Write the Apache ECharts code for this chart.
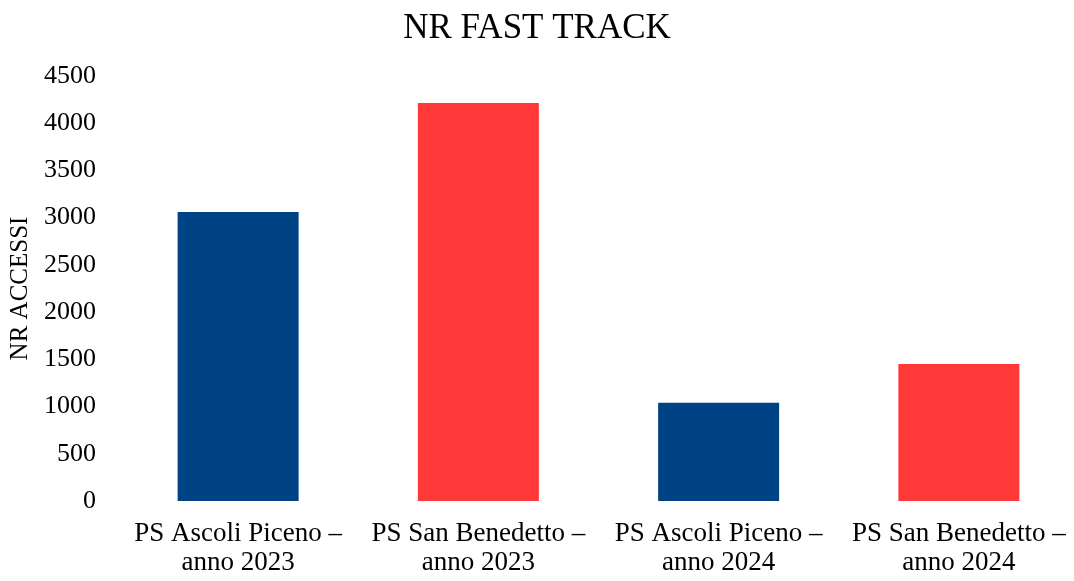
<!DOCTYPE html>
<html>
<head>
<meta charset="utf-8">
<script src="https://cdn.jsdelivr.net/npm/echarts@6/dist/echarts.min.js"></script>
<style>
  html, body { margin: 0; padding: 0; background: #ffffff; }
  #chart { width: 1074px; height: 581px; }
</style>
</head>
<body>
<div id="chart"></div>
<script>
// Emergency department fast-track admissions per site and year
const categories = [
  'PS Ascoli Piceno –\nanno 2023',
  'PS San Benedetto –\nanno 2023',
  'PS Ascoli Piceno –\nanno 2024',
  'PS San Benedetto –\nanno 2024'
];
const accessi = [3060, 4215, 1040, 1450];
const barColors = ['#004385', '#ff3838', '#004385', '#ff3838'];

const serif = '"Liberation Serif", "Times New Roman", Times, serif';

const chart = echarts.init(document.getElementById('chart'), null, { renderer: 'canvas' });
chart.setOption({
  backgroundColor: '#ffffff',
  animation: false,
  title: {
    text: 'NR FAST TRACK',
    left: 'center',
    top: 6,
    textStyle: { fontFamily: serif, fontSize: 35, fontWeight: 'normal', color: '#000000' }
  },
  grid: { left: 118, width: 961, top: 76, bottom: 80, outerBoundsMode: 'none', containLabel: false },
  xAxis: {
    type: 'category',
    data: categories,
    axisLine: { show: false },
    axisTick: { show: false },
    axisLabel: {
      interval: 0,
      margin: 18,
      fontFamily: serif,
      fontSize: 27,
      lineHeight: 29,
      color: '#000000'
    }
  },
  yAxis: {
    type: 'value',
    min: 0,
    max: 4500,
    interval: 500,
    name: 'NR ACCESSI',
    nameLocation: 'middle',
    nameGap: 82,
    nameTextStyle: { fontFamily: serif, fontSize: 25, color: '#000000' },
    axisLine: { show: false },
    axisTick: { show: false },
    splitLine: { show: false },
    axisLabel: {
      margin: 22,
      fontFamily: serif,
      fontSize: 26,
      color: '#000000',
      formatter: (v) => String(v)
    }
  },
  series: [{
    type: 'bar',
    data: accessi.map((v, i) => ({ value: v, itemStyle: { color: barColors[i] } })),
    barWidth: 121
  }]
});
</script>
</body>
</html>
